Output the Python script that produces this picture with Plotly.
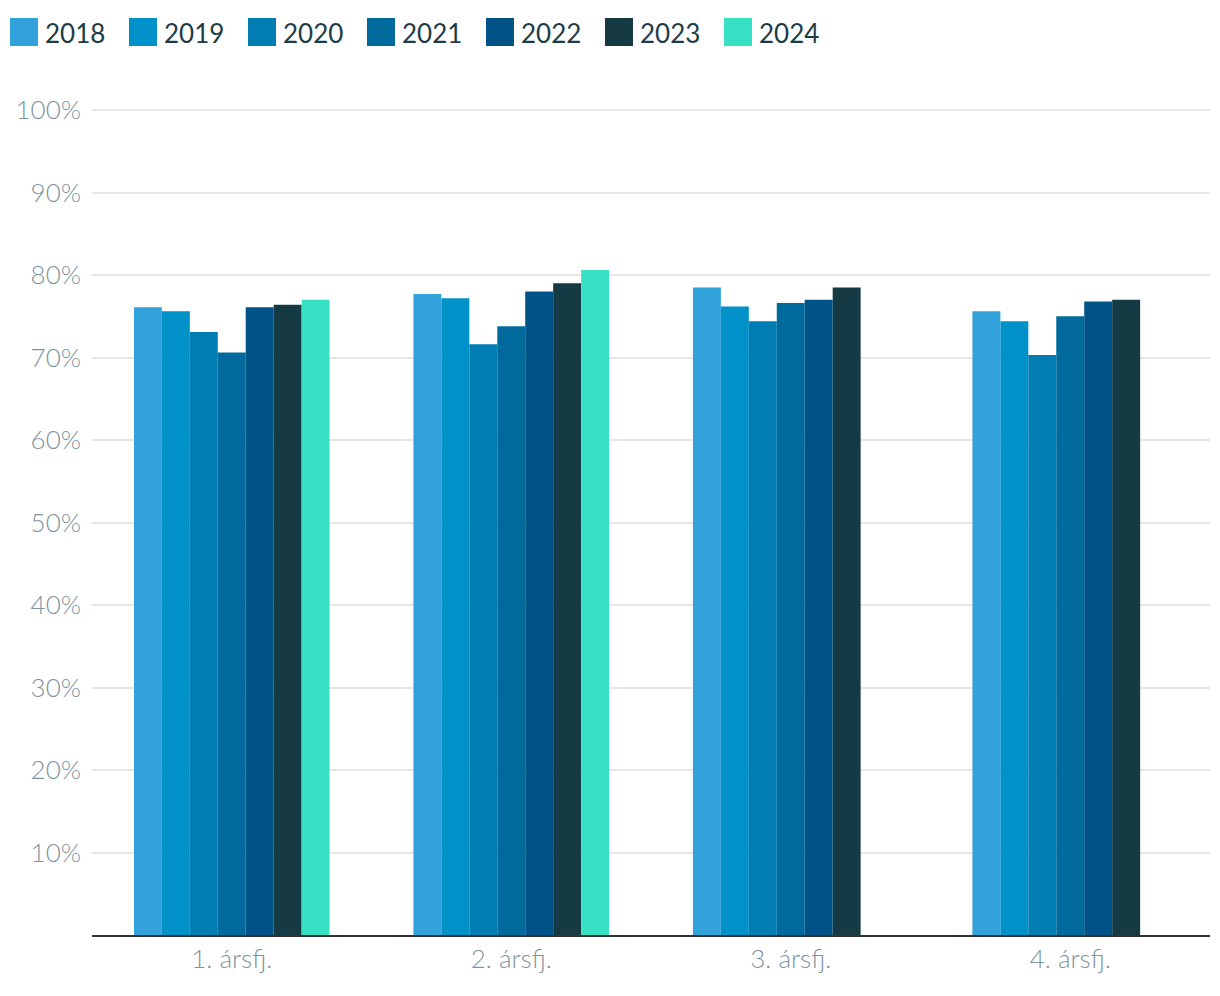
import plotly.graph_objects as go

quarters = ["1. ársfj.", "2. ársfj.", "3. ársfj.", "4. ársfj."]
years = ["2018", "2019", "2020", "2021", "2022", "2023", "2024"]
values = {
    "2018": [76.1, 77.7, 78.5, 75.6],
    "2019": [75.6, 77.2, 76.2, 74.4],
    "2020": [73.1, 71.6, 74.4, 70.3],
    "2021": [70.6, 73.8, 76.6, 75.0],
    "2022": [76.1, 78.0, 77.0, 76.8],
    "2023": [76.4, 79.0, 78.5, 77.0],
    "2024": [77.0, 80.6, None, None],
}
colors = ["#31a2da", "#0091c9", "#007db3", "#006a9c", "#005386", "#163a44", "#38e0c4"]

# page has an 8px body margin; compensate so the picture lands in place
OFF = 8
W, H = 1220 - OFF, 996 - OFF
L, R, T, B = 92 - OFF, 10, 108 - OFF, 61
pw, ph = W - L - R, H - T - B
YMAX = 100.25

fig = go.Figure()
for y, c in zip(years, colors):
    fig.add_trace(go.Bar(x=quarters, y=values[y], name=y, marker_color=c,
                         marker_line_width=0, showlegend=False,
                         hovertemplate="%{x}<br>" + y + ": %{y:.1f}%<extra></extra>"))

# custom legend (large square swatches), positions given in page pixels
def px(x):
    return (x - OFF - L) / pw

def py(yv):
    return (H - B - (yv - OFF)) / ph

shapes = []
annotations = []
for i, (y, c) in enumerate(zip(years, colors)):
    x0 = 10 + i * 119
    shapes.append(dict(type="rect", xref="paper", yref="paper",
                       x0=px(x0), x1=px(x0 + 28), y0=py(46), y1=py(18),
                       fillcolor=c, line_width=0))
    annotations.append(dict(text=y, xref="paper", yref="paper", x=px(x0 + 33), y=py(33),
                            xanchor="left", yanchor="middle", showarrow=False,
                            font=dict(family="Lato", size=26, color="#1d3c47", weight=400)))

fig.update_layout(
    width=W, height=H,
    margin=dict(l=L, r=R, t=T, b=B, autoexpand=False),
    paper_bgcolor="white", plot_bgcolor="white",
    barmode="group", bargap=0.3, bargroupgap=0,
    font=dict(family="Lato", size=26, color="#7d959e"),
    shapes=shapes, annotations=annotations,
    showlegend=False,
)
fig.update_xaxes(showline=True, linecolor="#333333", linewidth=2, showgrid=False,
                 ticks="", automargin=False,
                 tickfont=dict(family="Lato", size=26, color="#7d959e", weight=300))
fig.update_yaxes(range=[0, YMAX], tickvals=[10, 20, 30, 40, 50, 60, 70, 80, 90, 100],
                 ticktext=[f"{v}%" for v in range(10, 101, 10)],
                 showgrid=True, gridcolor="#e6e6e6", gridwidth=2, zeroline=False,
                 ticks="", ticklabelstandoff=10, automargin=False,
                 tickfont=dict(family="Lato", size=26, color="#7d959e", weight=300))

fig.write_html("out.html")
